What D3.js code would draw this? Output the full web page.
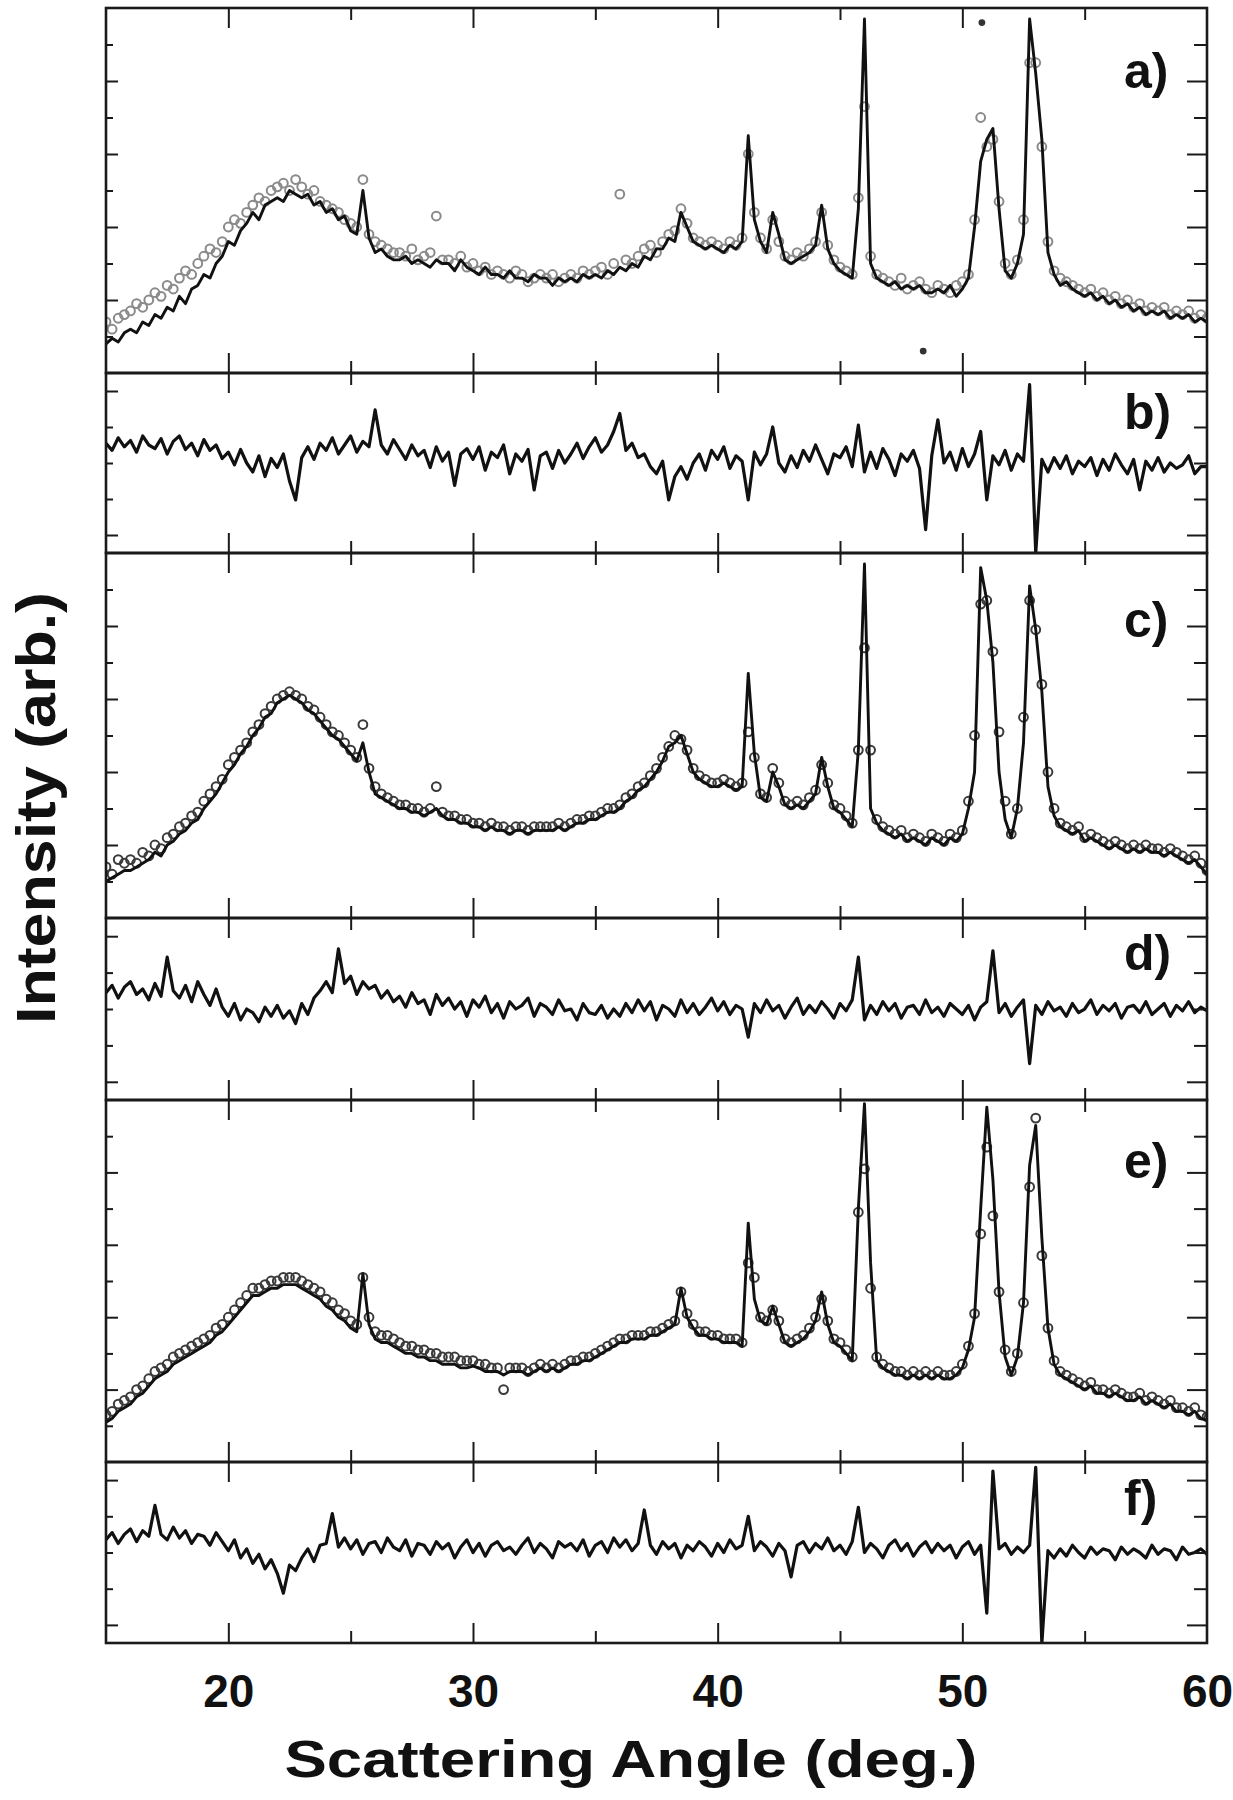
<!DOCTYPE html>
<html><head><meta charset="utf-8">
<script src="https://cdn.jsdelivr.net/npm/d3@7/dist/d3.min.js"></script>
<style>html,body{margin:0;padding:0;background:#fff}</style>
</head><body>
<svg id="chart" width="1233" height="1800"></svg>
<script>
// ---- measurement grid (degrees 2-theta), 0.25 deg step from 15 to 60 ----
const angleStart = 15, angleStep = 0.25, angleCount = 181;
const angles = d3.range(angleCount).map(i => angleStart + i * angleStep);

// ---- panel a : fit line and observed points (arb. units, 0..100) ----
const fitA = [
 8,9.5,8.5,11, 12,11,14,13, 16,15,18,17, 21,19,23,24, 27,26,30,32,
 36,35,39,41, 44,42,46,47, 48,47,50,49, 48,49,46,47, 44,45,42,43,
 39,38,50,37, 33,34,32,31, 31,32,30,31, 30,29,31,30, 30,28,31,29,
 28,27,29,27, 27,26,28,26, 26,25,27,26, 26,24,26,25, 26,25,27,26,
 27,26,28,27, 29,28,30,29, 32,31,34,34, 37,36,44,40, 36,35,34,35,
 34,33,35,34, 36,65,42,36, 33,44,38,31, 30,31,32,33, 35,46,34,30,
 28,27,26,45, 97,30,26,25, 24,25,23,24, 23,24,22,22, 23,22,24,21,
 23,26,40,58, 64,67,45,28, 26,30,38,97, 82,64,33,27, 24,25,23,22,
 21,22,20,21, 19,20,18,19, 17,18,16,17, 16,17,15,16, 15,16,14,15, 14];
const obsA = [
 14,12,15,16, 17,19,18,20, 22,21,24,23, 26,28,27,30, 32,34,33,36,
 40,42,41,44, 46,48,47,50, 51,52,50,53, 51,49,50,47, 46,45,44,42,
 41,40,53,38, 36,35,34,33, 33,32,34,31, 32,33,43,31, 31,30,32,29,
 30,28,29,27, 28,27,26,28, 27,25,26,27, 26,27,25,26, 27,26,28,27,
 28,29,27,30, 49,31,30,32, 34,35,33,36, 38,39,45,41, 37,36,35,36,
 35,34,36,35, 37,60,44,37, 34,42,36,32, 31,33,32,34, 36,44,35,31,
 29,28,27,48, 73,32,27,26, 25,24,26,23, 24,25,23,22, 24,23,22,24,
 25,27,42,70, 62,64,47,30, 27,31,42,85, 85,62,36,28, 26,25,24,23,
 22,23,21,22, 20,21,19,20, 18,19,17,18, 17,18,16,17, 16,17,15,16, 15];
const strayA = [[48.4, 6], [50.8, 96]];

// ---- panel b : difference (arb. units, -100..100) ----
const diffB = [
 22,14,28,18, 25,12,30,20, 16,27,10,24, 30,15,22,8, 26,14,20,5,
 12,-2,15,0, -10,8,-15,5, -5,10,-20,-41, 6,18,4,22, 14,28,10,20,
 30,12,24,18, 59,20,10,26, 15,4,20,8, 14,-5,18,2, 12,-25,10,16,
 4,18,-8,12, 6,20,-12,10, 2,15,-30,8, 12,-6,14,0, 10,22,5,18,
 28,12,20,35, 55,14,22,6, 10,-4,-12,2, -41,-15,-4,-18, 0,10,-8,14,
 4,18,-6,8, 2,-41,12,-2, 10,40,0,-10, 8,-5,14,2, 20,4,-12,10,
 6,18,-4,42, -10,12,-6,16, 4,-14,10,2, 14,-6,-74,8, 48,0,12,-8,
 16,-4,10,35, -41,8,-2,14, -8,10,2,87, -100,4,-10,6, -6,8,-12,2,
 -4,6,-14,4, -8,10,-2,-12, 4,-30,2,-8, 6,-10,0,-6, -2,8,-12,-4, -4];

// ---- panel c ----
const fitC = [
 10,11,12,13, 13,14,15,16, 18,17,20,21, 23,24,26,27, 30,32,34,37,
 40,42,45,47, 50,52,55,56, 59,60,61,60, 59,57,56,54, 52,50,49,47,
 45,43,48,40, 34,33,32,31, 30,30,29,29, 28,29,30,28, 27,27,26,26,
 25,25,24,25, 24,24,23,24, 24,23,24,24, 24,24,25,24, 25,26,26,27,
 27,28,29,29, 30,32,33,35, 36,38,40,43, 47,48,50,45, 40,38,37,36,
 36,37,36,35, 36,67,45,33, 32,40,36,31, 30,31,30,32, 34,44,36,30,
 29,27,25,46, 97,30,26,24, 23,22,23,21, 22,21,20,22, 21,20,22,21,
 23,30,40,96, 87,70,40,27, 22,30,48,91, 79,62,36,28, 25,24,23,24,
 21,22,21,20, 19,20,19,18, 19,18,19,18, 18,17,18,17, 16,15,16,14, 12];
const obsC = [
 14,12,16,15, 16,15,18,17, 20,19,22,23, 25,26,28,29, 32,34,36,38,
 42,44,46,48, 51,53,56,58, 60,61,62,61, 60,58,57,55, 53,51,50,48,
 46,44,53,41, 36,34,33,32, 31,31,30,30, 29,30,36,29, 28,28,27,27,
 26,26,25,26, 25,25,24,25, 25,24,25,25, 25,25,26,25, 26,27,27,28,
 28,29,30,30, 31,33,34,36, 37,39,41,44, 47,50,49,46, 41,39,38,37,
 37,38,37,36, 37,51,44,34, 33,41,37,32, 31,32,31,33, 35,42,37,31,
 30,28,26,46, 74,46,27,25, 24,23,24,22, 23,22,21,23, 22,21,23,22,
 24,32,50,86, 87,73,51,32, 23,30,55,87, 79,64,40,30, 26,25,24,25,
 22,23,22,21, 20,21,20,19, 20,19,20,19, 19,18,19,18, 17,16,17,15, 13];

// ---- panel d : difference ----
const diffD = [
 18,26,12,24, 30,16,22,10, 28,14,57,20, 12,26,8,30, 16,4,22,2,
 -8,6,-12,0, -4,-14,2,-8, 4,-10,-2,-16, 6,-6,12,20, 30,18,66,28,
 36,16,30,22, 26,12,20,8, 14,2,18,6, 10,-6,16,4, 12,0,8,-8,
 10,2,14,-4, 6,-10,8,0, 4,12,-8,6, 2,-6,10,-2, 0,-12,6,-4,
 -6,4,-10,0, -8,6,-4,10, -2,8,-12,4, 0,-8,10,-4, 6,-6,2,12,
 -2,8,-6,4, 0,-31,6,-4, 10,-2,4,-10, 2,12,-6,4, -4,8,0,-10,
 6,-2,10,57, -12,4,-6,8, -2,6,-10,2, 4,-6,10,-4, 2,-8,6,0,
 -6,4,-12,2, 8,64,-4,6, -8,2,10,-60, 4,-6,8,-2, 2,-8,6,-4,
 0,10,-6,4, -2,6,-10,2, 4,-4,8,-6, 0,6,-8,4, -2,8,-4,2, -2];

// ---- panel e ----
const fitE = [
 11,12,14,15, 16,18,19,21, 23,24,25,27, 28,29,30,31, 32,33,35,36,
 38,40,42,44, 46,46,47,48, 48,49,49,49, 48,47,46,45, 43,42,40,39,
 37,36,52,38, 34,33,33,32, 31,30,30,29, 29,28,28,27, 27,27,26,26,
 26.5,26,25,25, 25,24,25,25, 25,24,25,26, 25,26,25,26, 27,27,28,28,
 29,30,31,32, 33,33,34,34, 34,35,35,36, 37,38,48,40, 37,35,35,34,
 34,33,33,33, 32,66,45,39, 38,43,38,33, 32,33,34,36, 39,47,38,33,
 32,30,28,70, 99,55,28,26, 25,24,24,23, 24,23,24,23, 24,23,23,24,
 26,31,40,70, 98,78,47,29, 24,29,44,82, 93,62,37,27, 24,23,22,21,
 20,21,19,19, 18,19,18,17, 17,18,16,17, 16,15,16,14, 14,13,14,12, 11.6];
const obsE = [
 13,14,16,17, 18,20,21,23, 25,26,27,29, 30,31,32,33, 34,35,37,38,
 40,42,44,46, 48,48,49,50, 50,51,51,51, 50,49,48,47, 45,44,42,41,
 39,38,51,40, 36,35,35,34, 33,32,32,31, 31,30,30,29, 29,29,28,28,
 28,27,27,26, 26,20,26,26, 26,25,26,27, 26,27,26,27, 28,28,29,29,
 30,31,32,33, 34,34,35,35, 35,36,36,37, 38,39,47,41, 38,36,36,35,
 35,34,34,34, 33,55,51,40, 39,42,39,34, 33,34,35,37, 40,45,39,34,
 33,31,29,69, 81,48,29,27, 26,25,25,24, 25,24,25,24, 25,24,24,25,
 27,32,41,63, 87,68,47,31, 25,30,44,76, 95,57,37,28, 25,24,23,22,
 21,22,20,20, 19,20,19,18, 18,19,17,18, 17,16,17,15, 15,14,15,13, 12.5];

// ---- panel f : difference ----
const diffF = [
 14,22,10,20, 26,12,24,18, 52,20,14,28, 16,24,10,20, 18,8,22,12,
 2,14,-6,4, -12,-2,-18,-8, -23,-45,-14,-20, -6,4,-10,8, 10,43,6,16,
 4,14,-2,10, 12,0,16,6, 2,14,-4,10, 8,-2,12,4, 10,-6,6,14,
 0,10,-4,8, 12,2,6,-2, 8,16,0,10, 4,-6,12,6, 10,2,14,-4,
 8,12,0,16, 6,14,2,10, 47,8,-2,12, 4,10,-6,8, 2,12,6,-4,
 10,0,14,4, 8,40,2,12, 6,-4,10,2, -27,8,12,0, 10,4,16,2,
 8,-2,12,50, 0,10,4,-6, 8,14,2,10, -4,6,12,0, 10,2,8,-6,
 6,12,-2,8, -67,90,4,10, -2,6,0,8, 94,-100,2,-6, 4,-4,8,0,
 -6,6,-2,4, 2,-8,6,-2, 4,0,-6,8, -2,4,2,-8, 6,-2,0,4, -2];

// ---- ticks and labels ----
const xMajorTicks = [20, 30, 40, 50];
const xMinorTicks = [25, 35, 45, 55];
const xTickLabels = [20, 30, 40, 50, 60];
const yMainMajor = [20, 40, 60, 80];
const yMainMinor = [10, 30, 50, 70, 90];
const yDiffMajor = [-80, 80];
const yDiffMinor = [-40, 0, 40];
const panelLabels = ['a)', 'b)', 'c)', 'd)', 'e)', 'f)'];
const xTitle = 'Scattering Angle (deg.)';
const yTitle = 'Intensity (arb.)';

// ---- layout ----
const svg = d3.select('#chart');
const FONT = "'Liberation Sans', Arial, Helvetica, sans-serif";
const left = 106, right = 1207;
const x = d3.scaleLinear().domain([15, 60]).range([left, right]);

const panels = [
  {top: 8,    bottom: 373,  kind: 'main', fit: fitA, obs: obsA, stray: strayA, obsColor: '#8a8a8a', labelY: 88},
  {top: 373,  bottom: 553,  kind: 'diff', diff: diffB, labelY: 429},
  {top: 553,  bottom: 918,  kind: 'main', fit: fitC, obs: obsC, stray: [], obsColor: '#3a3a3a', labelY: 637},
  {top: 918,  bottom: 1100, kind: 'diff', diff: diffD, labelY: 970},
  {top: 1100, bottom: 1462, kind: 'main', fit: fitE, obs: obsE, stray: [], obsColor: '#3a3a3a', labelY: 1178},
  {top: 1462, bottom: 1643, kind: 'diff', diff: diffF, labelY: 1515}
];

const defs = svg.append('defs');

function tickAxis(g, gen, tx, ty) {
  const s = g.append('g').attr('transform', `translate(${tx},${ty})`).call(gen);
  s.select('.domain').remove();
  s.selectAll('text').remove();
  s.selectAll('line').attr('stroke', '#1a1a1a').attr('stroke-width', 2);
  return s;
}

panels.forEach((p, k) => {
  const y = d3.scaleLinear()
    .domain(p.kind === 'main' ? [0, 100] : [-100, 100])
    .range([p.bottom, p.top]);
  const g = svg.append('g');
  const clipId = 'clip' + k;
  defs.append('clipPath').attr('id', clipId)
    .append('rect').attr('x', left).attr('y', p.top)
    .attr('width', right - left).attr('height', p.bottom - p.top);
  const data = g.append('g').attr('clip-path', `url(#${clipId})`);

  if (p.kind === 'main') {
    data.append('g').selectAll('circle').data(p.obs).join('circle')
      .attr('cx', (d, i) => x(angles[i])).attr('cy', d => y(d))
      .attr('r', 4.4).attr('fill', 'none')
      .attr('stroke', p.obsColor).attr('stroke-width', 2);
    data.append('path').datum(p.fit)
      .attr('fill', 'none').attr('stroke', '#111').attr('stroke-width', 2.9)
      .attr('stroke-linejoin', 'round')
      .attr('d', d3.line().x((d, i) => x(angles[i])).y(d => y(d)));
    data.append('g').selectAll('circle').data(p.stray).join('circle')
      .attr('cx', d => x(d[0])).attr('cy', d => y(d[1]))
      .attr('r', 3.4).attr('fill', '#333');
  } else {
    data.append('path').datum(p.diff)
      .attr('fill', 'none').attr('stroke', '#111').attr('stroke-width', 3.2)
      .attr('stroke-linejoin', 'round')
      .attr('d', d3.line().x((d, i) => x(angles[i])).y(d => y(d)));
  }

  // x ticks on bottom and top edges, pointing inward
  tickAxis(g, d3.axisTop(x).tickValues(xMajorTicks).tickSize(20), 0, p.bottom);
  tickAxis(g, d3.axisTop(x).tickValues(xMinorTicks).tickSize(12), 0, p.bottom);
  tickAxis(g, d3.axisBottom(x).tickValues(xMajorTicks).tickSize(20), 0, p.top);
  tickAxis(g, d3.axisBottom(x).tickValues(xMinorTicks).tickSize(12), 0, p.top);

  // y ticks left (inward) and right (inward)
  const maj = p.kind === 'main' ? yMainMajor : yDiffMajor;
  const mnr = p.kind === 'main' ? yMainMinor : yDiffMinor;
  tickAxis(g, d3.axisRight(y).tickValues(maj).tickSize(12), left, 0);
  tickAxis(g, d3.axisRight(y).tickValues(mnr).tickSize(7), left, 0);
  tickAxis(g, d3.axisLeft(y).tickValues(maj).tickSize(20), right, 0);
  tickAxis(g, d3.axisLeft(y).tickValues(mnr).tickSize(13), right, 0);

  // frame
  g.append('rect').attr('x', left).attr('y', p.top)
    .attr('width', right - left).attr('height', p.bottom - p.top)
    .attr('fill', 'none').attr('stroke', '#1a1a1a').attr('stroke-width', 2.6);

  // panel label
  g.append('text').attr('x', 1124).attr('y', p.labelY)
    .attr('font-family', FONT).attr('font-weight', 'bold').attr('font-size', 50)
    .attr('fill', '#111').text(panelLabels[k]);
});

// bottom tick labels
const bottomAxis = svg.append('g').attr('transform', 'translate(0,1643)')
  .call(d3.axisBottom(x).tickValues(xTickLabels).tickSize(0).tickPadding(31).tickFormat(d3.format('d')));
bottomAxis.select('.domain').remove();
bottomAxis.attr('font-family', FONT).attr('font-size', 46).attr('font-weight', 'bold');
bottomAxis.selectAll('text').attr('fill', '#111');

// axis titles
svg.append('text').attr('x', 631).attr('y', 1777).attr('text-anchor', 'middle')
  .attr('font-family', FONT).attr('font-weight', 'bold').attr('font-size', 52)
  .attr('textLength', 693).attr('lengthAdjust', 'spacingAndGlyphs')
  .attr('fill', '#111').text(xTitle);
svg.append('text').attr('transform', 'translate(55,808) rotate(-90)').attr('text-anchor', 'middle')
  .attr('font-family', FONT).attr('font-weight', 'bold').attr('font-size', 55)
  .attr('textLength', 432).attr('lengthAdjust', 'spacingAndGlyphs')
  .attr('fill', '#111').text(yTitle);
</script>
</body></html>
